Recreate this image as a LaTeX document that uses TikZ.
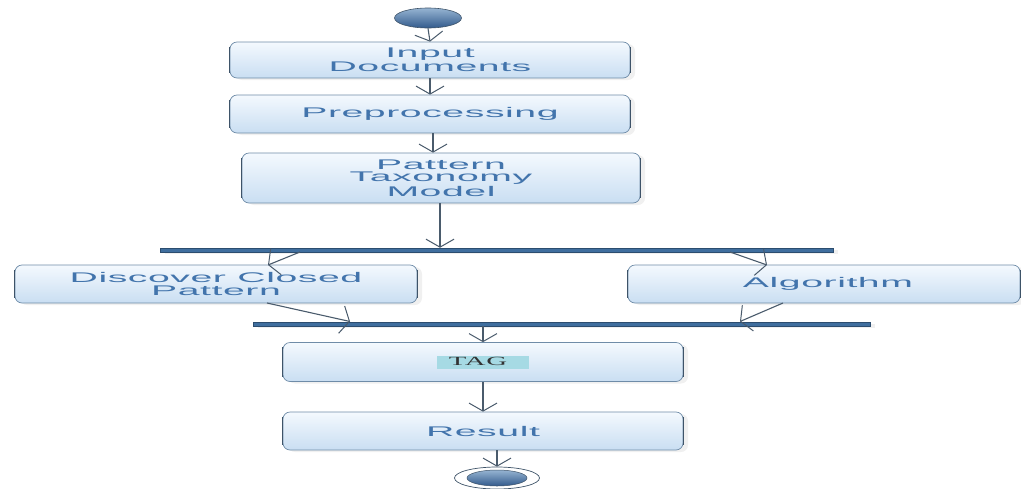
\documentclass[tikz,border=0pt]{standalone}
\usepackage{fontspec}
\usetikzlibrary{arrows.meta,shapes.geometric,shadows}
\newfontfamily\boxfont[FakeStretch=2.8,LetterSpace=4]{Liberation Sans}
\newfontfamily\tagfont[FakeStretch=2.3,LetterSpace=6]{Liberation Serif}
\definecolor{txtblue}{HTML}{4274AC}
\definecolor{boxtop}{HTML}{F4F9FE}
\definecolor{boxbot}{HTML}{C9DEF2}
\definecolor{boxline}{HTML}{6F8CA8}
\definecolor{sideline}{HTML}{3E5368}
\definecolor{arrowline}{HTML}{4A5B6C}
\definecolor{barcol}{HTML}{3F6E9E}
\definecolor{tagbg}{HTML}{A6DAE4}
\definecolor{dotlight}{RGB}{150,180,210}
\definecolor{dotdark}{RGB}{50,90,140}
\tikzset{
  actbox/.style={rectangle, rounded corners=7pt, draw=boxline, line width=0.7pt,
    top color=boxtop, bottom color=boxbot, align=center,
    font=\boxfont\fontsize{14}{12.5}\selectfont, text=txtblue, inner sep=0pt,
    drop shadow={opacity=0.12, shadow xshift=5pt, shadow yshift=-2pt}},
  sidebar/.style={draw=sideline, line width=1.6pt},
  flow/.style={draw=arrowline, line width=1.1pt, -{Straight Barb[length=8pt,width=28pt,line width=1pt]}},
  forkbar/.style={rectangle, fill=barcol, draw=barcol!70!black, line width=0.4pt, inner sep=0pt, minimum height=4.5pt,
    drop shadow={opacity=0.12, shadow xshift=5pt, shadow yshift=-2pt}},
  dot/.style={ellipse, inner sep=0pt, draw=sideline, top color=dotlight, bottom color=dotdark},
}
\begin{document}
\begin{tikzpicture}[x=1pt,y=-1pt]
\useasboundingbox (0,0) rectangle (1021,488);
% start node
\node[dot, minimum width=67pt, minimum height=20pt, line width=0.6pt] (start) at (428,18) {};
% activities
\node[actbox, minimum width=400pt, minimum height=36pt] (in) at (430,60) {Input\\Documents};
\node[actbox, minimum width=400pt, minimum height=38pt] (pre) at (430,114) {Preprocessing};
\node[actbox, minimum width=398pt, minimum height=50pt] (ptm) at (441,178) {Pattern\\Taxonomy\\Model};
\node[forkbar, minimum width=673pt] (bar1) at (496.5,250) {};
\node[actbox, minimum width=402pt, minimum height=38pt] (dcp) at (216,284) {Discover Closed\\Pattern};
\node[actbox, minimum width=392pt, minimum height=38pt] (alg) at (824,284) {\hspace*{8pt}Algorithm};
\node[forkbar, minimum width=617pt] (bar2) at (561.5,324) {};
\node[actbox, minimum width=400pt, minimum height=39pt] (tag) at (483,362) {\setlength{\fboxsep}{0pt}\tagfont\fontsize{12.5}{12.5}\selectfont\color{black!80}\colorbox{tagbg}{\rule[-3pt]{0pt}{13pt}\hspace*{12pt}TAG\hspace*{22pt}}};
\node[actbox, minimum width=400pt, minimum height=38pt] (res) at (483,431) {Result};
% end node
\node[ellipse, minimum width=85pt, minimum height=22pt, inner sep=0pt, draw=sideline, line width=0.7pt, fill=white] (end) at (497,478) {};
\node[dot, minimum width=60pt, minimum height=16pt, line width=0.5pt] (endin) at (497,478) {};
% thicker side lines
\foreach \n in {in,pre,ptm,dcp,alg,tag,res}{
  \draw[sidebar] ([yshift=-5pt]\n.north west) -- ([yshift=5pt]\n.south west);
  \draw[sidebar] ([yshift=-5pt]\n.north east) -- ([yshift=5pt]\n.south east);
}
% coordinates for diagonal connectors
\coordinate (b1l) at (300,252);
\coordinate (b1r) at (730,252);
\coordinate (b1m) at (440,247.75);
\coordinate (dcpin) at (268,265);
\coordinate (algin) at (767,265);
\coordinate (dcpout) at (267,303);
\coordinate (algout) at (783,303);
\coordinate (b2l) at (350,321.5);
\coordinate (b2r) at (740,321.5);
\coordinate (b2m) at (483,326.25);
% connectors
\draw[flow] (start.south) -- (in.north);
\draw[flow] (in.south) -- (pre.north);
\draw[flow] ([xshift=3pt]pre.south) -- ([xshift=-8pt]ptm.north);
\draw[flow] ([xshift=-1pt]ptm.south) -- (b1m);
\draw[flow] (b1l) -- (dcpin);
\draw[flow] (b1r) -- (algin);
\draw[flow] (dcpout) -- (b2l);
\draw[flow] (algout) -- (b2r);
\draw[flow] (b2m) -- (tag.north);
\draw[flow] (tag.south) -- (res.north);
\draw[flow] ([xshift=14pt]res.south) -- (end.north);
\end{tikzpicture}
\end{document}
